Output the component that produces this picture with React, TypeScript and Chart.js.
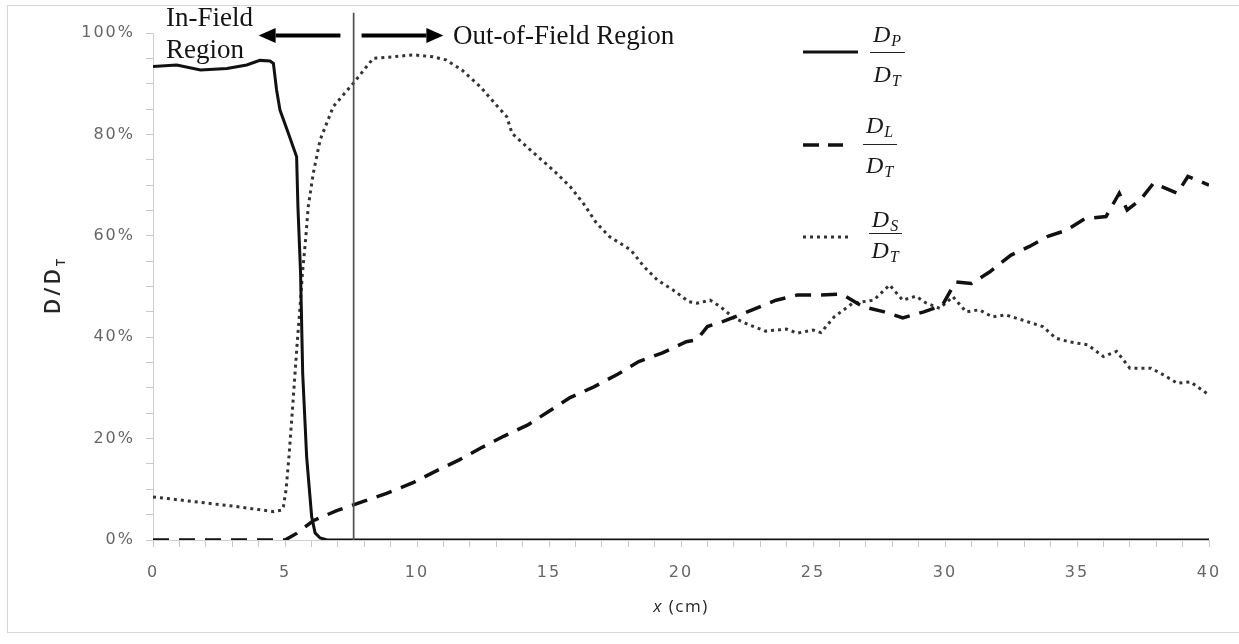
import React, { useEffect, useRef } from 'react';
import { Chart, registerables } from 'chart.js';

Chart.register(...registerables);

// ---- data (x in cm, y in % of D_T) ----
const xP = [0, 0.9, 1.8, 2.8, 3.55, 4.05, 4.43, 4.56, 4.68, 4.81, 5.13, 5.44, 5.49, 5.59, 5.67, 5.82, 6.01, 6.14, 6.33, 6.6, 10, 15, 20, 25, 30, 35, 40];
const yP = [93.4, 93.7, 92.7, 93.0, 93.7, 94.6, 94.5, 94.0, 88.8, 84.8, 80.2, 75.6, 65.7, 52.6, 32.9, 16.4, 4.6, 1.4, 0.4, 0, 0, 0, 0, 0, 0, 0, 0];

const xL = [0, 5.0, 5.44, 6.07, 6.96, 7.97, 8.85, 9.85, 10.6, 11.6, 12.4, 13.3, 14.2, 15.0, 15.8, 16.7, 17.6, 18.4, 19.3, 20.2, 20.6, 21.0, 21.7, 22.7, 23.6, 24.4, 25.1, 26.1, 26.9, 27.7, 28.4, 29.2, 29.9, 30.4, 31.0, 31.7, 32.5, 33.2, 33.9, 34.6, 35.3, 36.1, 36.6, 36.9, 37.4, 37.9, 38.8, 39.2, 40.0];
const yL = [0, 0, 1.3, 3.8, 5.8, 7.6, 9.2, 11.3, 13.3, 15.8, 18.1, 20.5, 22.7, 25.4, 28.1, 30.2, 32.7, 35.2, 36.9, 39.1, 39.5, 42.1, 43.3, 45.4, 47.3, 48.3, 48.3, 48.5, 46.0, 45.0, 43.8, 45.0, 46.3, 50.9, 50.6, 52.9, 56.2, 57.9, 59.9, 61.1, 63.4, 63.8, 68.4, 65.1, 67.1, 70.4, 68.4, 71.7, 70.0];

const xS = [0, 1, 2, 3, 4, 4.56, 4.87, 4.94, 5.04, 5.15, 5.29, 5.38, 5.47, 5.57, 5.66, 5.78, 5.88, 6.07, 6.33, 6.83, 7.59, 8.34, 9.1, 9.86, 10.6, 11.1, 11.7, 12.4, 13.0, 13.4, 13.6, 14.3, 15.15, 15.8, 16.3, 16.8, 17.3, 18.1, 18.6, 19.1, 19.7, 20.3, 20.6, 21.1, 21.5, 22.0, 22.6, 23.2, 24.0, 24.4, 25.0, 25.3, 25.8, 26.5, 27.3, 27.9, 28.4, 28.9, 29.3, 29.8, 30.3, 30.8, 31.3, 31.8, 32.3, 33.1, 33.7, 34.2, 34.7, 35.4, 36.0, 36.5, 37.0, 37.8, 38.3, 38.8, 39.3, 40.0];
const yS = [8.5, 7.9, 7.3, 6.7, 6.0, 5.6, 5.9, 6.6, 9.9, 16.4, 26.3, 32.9, 39.4, 46.0, 52.6, 59.2, 65.7, 72.3, 78.9, 85.5, 90.1, 95.0, 95.3, 95.7, 95.3, 94.7, 92.7, 89.4, 85.8, 83.5, 80.2, 76.9, 73.0, 69.7, 66.4, 62.5, 59.8, 57.2, 53.9, 51.3, 49.3, 47.0, 46.7, 47.3, 46.0, 43.8, 42.4, 41.2, 41.6, 40.8, 41.4, 40.9, 44.0, 46.7, 47.3, 50.3, 47.3, 48.1, 46.7, 45.7, 48.0, 45.0, 45.4, 44.0, 44.4, 43.1, 42.1, 39.8, 39.1, 38.5, 36.2, 37.2, 33.9, 33.9, 32.5, 30.9, 31.2, 28.6];

// axis settings
const X_MIN = 0;
const X_MAX = 40;
const X_STEP = 1;
const X_LABEL_EVERY = 5;
const Y_MIN = 0;
const Y_MAX = 100;
const Y_STEP = 5;
const Y_LABEL_EVERY = 20;

// annotation values (data units)
const BOUNDARY_X = 7.6;
const BOUNDARY_TOP = 104;
const ARROW_Y = 99.5;
const LEFT_ARROW = [7.1, 4.0];
const RIGHT_ARROW = [7.9, 11.0];

const pts = (xs: number[], ys: number[]) => xs.map((x, i) => ({ x, y: ys[i] }));

function drawArrow(ctx: CanvasRenderingContext2D, x0: number, x1: number, y: number) {
  const dir = x1 > x0 ? 1 : -1;
  const headLen = 17;
  const headHalf = 7.5;
  ctx.beginPath();
  ctx.lineWidth = 4;
  ctx.strokeStyle = '#000';
  ctx.moveTo(x0, y);
  ctx.lineTo(x1 - dir * headLen, y);
  ctx.stroke();
  ctx.beginPath();
  ctx.fillStyle = '#000';
  ctx.moveTo(x1, y);
  ctx.lineTo(x1 - dir * headLen, y - headHalf);
  ctx.lineTo(x1 - dir * headLen, y + headHalf);
  ctx.closePath();
  ctx.fill();
}

const spacingPlugin = {
  id: 'spacing',
  beforeDraw(chart: any) {
    chart.ctx.letterSpacing = '2px';
  },
  afterDraw(chart: any) {
    chart.ctx.letterSpacing = '0px';
  },
};

const annotationPlugin = {
  id: 'regionAnnotations',
  afterDatasetsDraw(chart: any) {
    const { ctx, scales, chartArea } = chart;
    const x = scales.x;
    const y = scales.y;
    ctx.save();
    const bx = x.getPixelForValue(BOUNDARY_X);
    ctx.strokeStyle = '#505050';
    ctx.lineWidth = 1.7;
    ctx.beginPath();
    ctx.moveTo(bx, y.getPixelForValue(BOUNDARY_TOP));
    ctx.lineTo(bx, chartArea.bottom);
    ctx.stroke();
    const ay = y.getPixelForValue(ARROW_Y);
    drawArrow(ctx, x.getPixelForValue(LEFT_ARROW[0]), x.getPixelForValue(LEFT_ARROW[1]), ay);
    drawArrow(ctx, x.getPixelForValue(RIGHT_ARROW[0]), x.getPixelForValue(RIGHT_ARROW[1]), ay);
    ctx.restore();
  },
};

const serif = '"Liberation Serif", "Times New Roman", serif';

function Fraction(props: { left: number; width: number; barY: number; numBase: number; denBase: number; sub: string }) {
  const { left, width, barY, numBase, denBase, sub } = props;
  const txt = (base: number, s: string) => (
    <div
      style={{
        position: 'absolute',
        left,
        width,
        top: base - 20.1,
        height: 24,
        lineHeight: '24px',
        fontSize: 24,
        fontFamily: serif,
        fontStyle: 'italic',
        textAlign: 'center',
        whiteSpace: 'nowrap',
        color: '#1a1a1a',
        letterSpacing: '1px',
      }}
    >
      D<span style={{ fontSize: 16, position: 'relative', top: 4 }}>{s}</span>
    </div>
  );
  return (
    <>
      {txt(numBase, sub)}
      <div style={{ position: 'absolute', left, width, top: barY - 0.5, height: 1.2, background: '#222' }} />
      {txt(denBase, 'T')}
    </>
  );
}

function Sample(props: { x1: number; x2: number; y: number; dash?: string; width: number; color: string }) {
  const { x1, x2, y, dash, width, color } = props;
  return (
    <svg style={{ position: 'absolute', left: 0, top: 0, overflow: 'visible' }} width={1} height={1}>
      <line x1={x1} y1={y} x2={x2} y2={y} stroke={color} strokeWidth={width} strokeDasharray={dash} />
    </svg>
  );
}

export default function App() {
  const canvasRef = useRef<HTMLCanvasElement | null>(null);

  useEffect(() => {
    const canvas = canvasRef.current;
    if (!canvas) return;
    const chart = new Chart(canvas, {
      type: 'line',
      data: {
        datasets: [
          {
            label: 'DP/DT',
            data: pts(xP, yP),
            borderColor: '#111',
            borderWidth: 3,
            pointRadius: 0,
            tension: 0,
            fill: false,
          },
          {
            label: 'DL/DT',
            data: pts(xL, yL),
            borderColor: '#111',
            borderWidth: 3.5,
            borderDash: [16, 10],
            pointRadius: 0,
            tension: 0,
            fill: false,
          },
          {
            label: 'DS/DT',
            data: pts(xS, yS),
            borderColor: '#333',
            borderWidth: 3,
            borderDash: [3, 4],
            pointRadius: 0,
            tension: 0,
            fill: false,
          },
        ],
      },
      options: {
        animation: false,
        responsive: false,
        maintainAspectRatio: false,
        layout: { padding: { left: 0, right: 30, top: 33, bottom: 0 } },
        plugins: { legend: { display: false }, tooltip: { enabled: false } },
        scales: {
          x: {
            type: 'linear',
            min: X_MIN,
            max: X_MAX,
            afterFit: (s: any) => {
              s.height = 104;
            },
            grid: { display: true, drawOnChartArea: false, drawTicks: true, tickLength: 7, tickColor: '#c8c8c8' },
            border: { display: true, color: '#d0d0d0', width: 1 },
            ticks: {
              stepSize: X_STEP,
              autoSkip: false,
              maxRotation: 0,
              padding: 16,
              color: '#666',
              font: { family: '"DejaVu Sans", sans-serif', size: 16 },
              callback: (v: any) => (v % X_LABEL_EVERY === 0 ? String(v) : ''),
            },
          },
          y: {
            type: 'linear',
            min: Y_MIN,
            max: Y_MAX,
            afterFit: (s: any) => {
              s.width = 153;
            },
            grid: { display: true, drawOnChartArea: false, drawTicks: true, tickLength: 7, tickColor: '#c8c8c8' },
            border: { display: true, color: '#d0d0d0', width: 1 },
            ticks: {
              stepSize: Y_STEP,
              autoSkip: false,
              padding: 11,
              color: '#666',
              font: { family: '"DejaVu Sans", sans-serif', size: 16 },
              callback: (v: any) => (v % Y_LABEL_EVERY === 0 ? `${v}%` : ''),
            },
          },
        },
      },
      plugins: [spacingPlugin, annotationPlugin],
    } as any);
    return () => chart.destroy();
  }, []);

  return (
    <div style={{ position: 'absolute', left: 0, top: 0, width: 1239, height: 644, background: '#fff', overflow: 'hidden' }}>
      <canvas ref={canvasRef} width={1239} height={644} style={{ position: 'absolute', left: 0, top: 0, width: 1239, height: 644 }} />
      <div style={{ position: 'absolute', left: 7, top: 5, width: 1250, height: 626, border: '1px solid #d6d6d6', pointerEvents: 'none' }} />

      {/* region labels */}
      <div style={{ position: 'absolute', left: 166, top: 4.4, fontFamily: serif, fontSize: 27, lineHeight: '27px', color: '#141414', whiteSpace: 'nowrap' }}>In-Field</div>
      <div style={{ position: 'absolute', left: 166, top: 36.4, fontFamily: serif, fontSize: 27, lineHeight: '27px', color: '#141414', whiteSpace: 'nowrap' }}>Region</div>
      <div style={{ position: 'absolute', left: 453, top: 22.4, fontFamily: serif, fontSize: 27, lineHeight: '27px', color: '#141414', whiteSpace: 'nowrap' }}>Out-of-Field Region</div>

      {/* legend */}
      <Sample x1={803} x2={858} y={52} width={3} color="#111" />
      <Fraction left={870} width={35} barY={52} numBase={42} denBase={82} sub="P" />
      <Sample x1={803} x2={843} y={145} width={3.5} dash="16 9" color="#111" />
      <Fraction left={863} width={34} barY={144} numBase={133} denBase={173} sub="L" />
      <Sample x1={803} x2={852} y={237} width={3} dash="3 4" color="#333" />
      <Fraction left={869} width={33} barY={233} numBase={227} denBase={258} sub="S" />

      {/* axis titles */}
      <div
        style={{
          position: 'absolute',
          left: -8,
          top: 270,
          width: 120,
          height: 30,
          lineHeight: '30px',
          textAlign: 'center',
          fontFamily: '"Open Sans", sans-serif',
          fontWeight: 600,
          fontSize: 21,
          letterSpacing: '3px',
          color: '#262626',
          transform: 'rotate(-90deg)',
          whiteSpace: 'nowrap',
        }}
      >
        D/D<span style={{ fontSize: 13, position: 'relative', top: 5 }}>T</span>
      </div>
      <div
        style={{
          position: 'absolute',
          left: 581,
          top: 596,
          width: 200,
          height: 20,
          lineHeight: '20px',
          textAlign: 'center',
          fontFamily: '"Open Sans", sans-serif',
          fontSize: 17,
          letterSpacing: '1.5px',
          color: '#262626',
          whiteSpace: 'nowrap',
        }}
      >
        <i>x</i> (cm)
      </div>
    </div>
  );
}
